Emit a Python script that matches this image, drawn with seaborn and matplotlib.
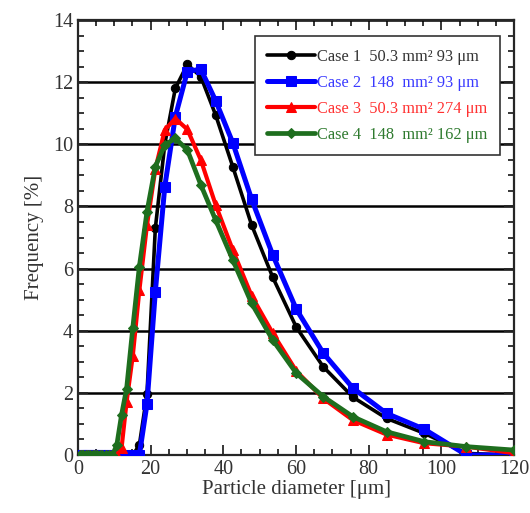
import matplotlib
matplotlib.use("Agg")
import matplotlib.pyplot as plt
from matplotlib.ticker import MultipleLocator
import seaborn as sns
import pandas as pd

# particle size bins [um]
diameter = [0.5, 1.0, 1.5, 2.1, 2.7, 3.4, 4.2, 4.8, 5.3, 6.0, 6.7, 7.6, 8.5, 9.5,
            10.7, 12.0, 13.4, 15.1, 16.9, 19.0, 21.3, 23.9, 26.8, 30.1, 33.8,
            37.9, 42.6, 47.8, 53.6, 60.1, 67.5, 75.7, 84.9, 95.3, 106.9, 120.0]

zeros14 = [0.0] * 14
case1 = zeros14 + [0.0, 0.0, 0.0, 0.0, 0.32, 1.96, 7.3, 10.0, 11.8, 12.57, 12.18,
                   10.94, 9.28, 7.40, 5.72, 4.11, 2.84, 1.86, 1.18, 0.70, 0.05, 0.0]
case2 = zeros14 + [0.0, 0.0, 0.0, 0.0, 0.0, 1.64, 5.26, 8.64, 10.89, 12.34, 12.42,
                   11.4, 10.05, 8.23, 6.44, 4.69, 3.28, 2.15, 1.34, 0.83, 0.0, 0.0]
case3 = zeros14 + [0.0, 0.22, 1.72, 3.2, 5.3, 7.4, 9.2, 10.46, 10.83, 10.48, 9.5,
                   8.05, 6.6, 5.12, 3.92, 2.7, 1.82, 1.12, 0.66, 0.38, 0.27, 0.06]
case4 = zeros14 + [0.32, 1.29, 2.14, 4.1, 6.06, 7.83, 9.28, 9.98, 10.19, 9.82, 8.7,
                   7.56, 6.28, 4.88, 3.7, 2.63, 1.88, 1.23, 0.75, 0.43, 0.27, 0.16]

labels = ["Case 1  50.3 mm\u00b2 93 \u03bcm",
          "Case 2  148  mm\u00b2 93 \u03bcm",
          "Case 3  50.3 mm\u00b2 274 \u03bcm",
          "Case 4  148  mm\u00b2 162 \u03bcm"]
colors = ["#000000", "#0000ff", "#ff0000", "#1e6e1e"]
text_colors = ["#333333", "#3a3aff", "#ff3030", "#2e7a2e"]
markers = ["o", "s", "^", "D"]
sizes = [6, 6.5, 6.5, 5.5]
widths = [2.6, 3.6, 3.0, 3.4]

df = pd.DataFrame({
    "d": diameter * 4,
    "f": case1 + case2 + case3 + case4,
    "case": sum([[lab] * len(diameter) for lab in labels], []),
})

sns.set_style("ticks")
plt.rcParams["font.family"] = ["Liberation Serif", "DejaVu Serif"]

fig = plt.figure(figsize=(5.30, 5.13), dpi=100)
ax = fig.add_axes([0.147, 0.113, 0.823, 0.848])

for i, lab in enumerate(labels):
    sns.lineplot(data=df[df["case"] == lab], x="d", y="f", ax=ax,
                 color=colors[i], marker=markers[i], markersize=sizes[i],
                 markeredgecolor=colors[i], linewidth=widths[i], label=lab,
                 sort=False, legend=False, zorder=3 + i)

ax.set_xlim(0, 120)
ax.set_ylim(0, 14)
ax.xaxis.set_major_locator(MultipleLocator(20))
ax.xaxis.set_minor_locator(MultipleLocator(5))
ax.yaxis.set_major_locator(MultipleLocator(2))
ax.yaxis.set_minor_locator(MultipleLocator(0.5))
ax.tick_params(which="both", direction="in", top=True, right=True,
               labelsize=14.5, labelcolor="#333333", width=1.3)
ax.tick_params(which="major", length=7)
ax.tick_params(which="minor", length=4)
ax.grid(axis="y", color="black", linewidth=1.8)
for s in ax.spines.values():
    s.set_linewidth(1.6)

ax.set_xlabel("Particle diameter [\u03bcm]", fontsize=15, color="#333333", labelpad=1)
ax.set_ylabel("Frequency [%]", fontsize=15, color="#333333", labelpad=6)

leg = ax.legend(loc="upper right", bbox_to_anchor=(0.975, 0.97), fontsize=11.8,
                frameon=True, fancybox=False, edgecolor="#333333",
                handlelength=2.9, labelcolor=text_colors, borderpad=0.75,
                labelspacing=0.62, handletextpad=0.15, framealpha=1,
                borderaxespad=0.2)
leg.get_frame().set_linewidth(1.2)
leg.set_zorder(10)

fig.savefig("out.png", dpi=100)
